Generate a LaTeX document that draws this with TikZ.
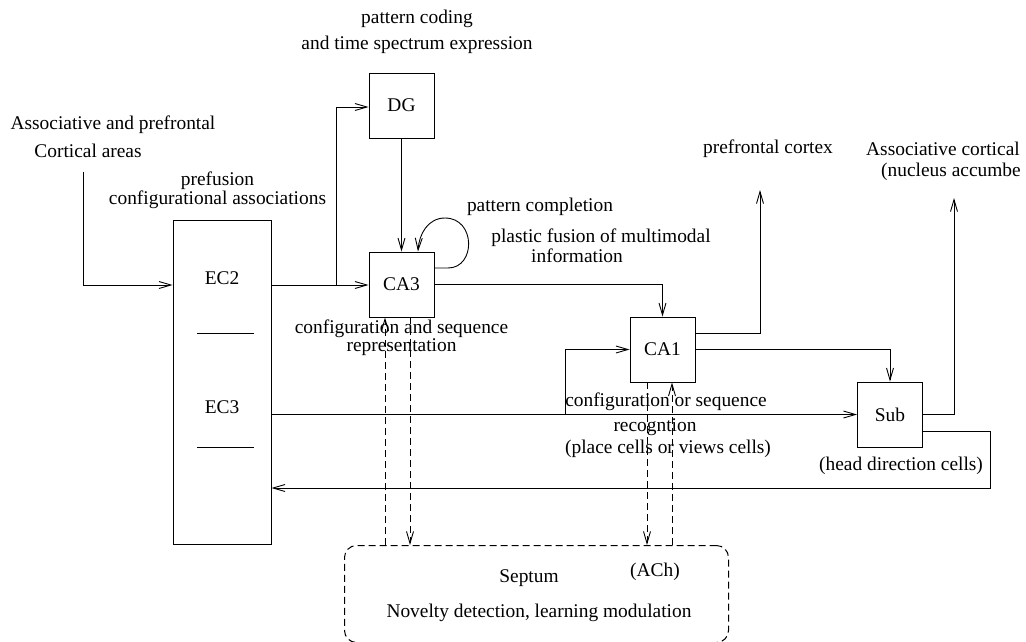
\documentclass[tikz,border=0pt]{standalone}
\usepackage{fontspec}
\setmainfont{Liberation Serif}
\usetikzlibrary{arrows.meta,calc}
\begin{document}
\begin{tikzpicture}[x=1pt,y=-1pt,
  every node/.style={font=\fontsize{19.4}{22}\selectfont, inner sep=0pt},
  box/.style={draw, line width=0.9pt, minimum width=65pt, minimum height=65pt},
  arr/.style={line width=0.9pt, -{Straight Barb[length=12pt,width=7pt]}},
  darr/.style={line width=0.9pt, dash pattern=on 7pt off 4pt, -{Straight Barb[length=12pt,width=7pt]}},
  ln/.style={line width=0.9pt}]
\clip (0,0) rectangle (1026,641);
% boxes
\node[box] (DG) at (401.5,105.5) {DG};
\node[box] (CA3) at (401.5,284.5) {CA3};
\node[box] (CA1) at (662.5,349.5) {CA1};
\node[box] (Sub) at (890,414.5) {Sub};
\node[draw, line width=0.9pt, minimum width=98pt, minimum height=324pt] (EC) at (222,382) {};
\node (ec2) at (222,278) {EC2};
\node (ec3) at (222,407) {EC3};
\draw[ln] (197,333.5) -- (254,333.5);
\draw[ln] (197,447.5) -- (254,447.5);
\node[draw, line width=1pt, dash pattern=on 7pt off 4pt, rounded corners=12pt, minimum width=384pt, minimum height=97pt] (Sep) at (536.5,594) {};
% texts
\node (t1) at (417,19) {pattern coding};
\node (t2) at (417,45) {and time spectrum expression};
\node (t3) at (113,125) {Associative and prefrontal};
\node (t4) at (88,151) {Cortical areas};
\node[align=center, font=\fontsize{19.4}{16}\selectfont] (t5) at (217.5,190) {prefusion\\configurational associations};
\node (t7) at (540,207) {pattern completion};
\node (t8) at (601,238) {plastic fusion of multimodal};
\node (t9) at (577,256) {information};
\node (t10) at (768,149) {prefrontal cortex};
\node[anchor=west] (t11) at (866,149) {Associative cortical};
\node[anchor=west] (t12) at (881,172) {(nucleus accumbe};
\node[align=center, font=\fontsize{19.4}{17}\selectfont] (t13) at (401.5,337.5) {configuration and sequence\\representation};
\node (t15) at (666,402) {configuration or sequence};
\node (t16) at (655,427) {recogntion};
\node (t17) at (668,449) {(place cells or views cells)};
\node (t18) at (901,466) {(head direction cells)};
\node (t19) at (529,578) {Septum};
\node (t20) at (655,572) {(ACh)};
\node (t21) at (539,613) {Novelty detection, learning modulation};
% coordinates
\coordinate (inp) at (83,172);
\coordinate (br1) at (336,285);
\coordinate (pfc) at (760,190);
\coordinate (br2) at (565,415);
\coordinate (acx) at (954,198);
\coordinate (ret) at (990,488);
% connectors
\draw[arr] (inp) |- (EC.west |- 0,285);
\draw[arr] (EC.east |- 0,285) -- (CA3.west |- 0,285);
\draw[arr] (br1) |- (DG.west |- 0,107);
\draw[arr] (DG) -- (CA3);
\draw[arr] (CA3.east |- 0,268) -- (448,268) .. controls (476,268) and (476,218) .. (445,218) .. controls (428,218) and (419,234) .. (CA3.north -| 418,0);
\draw[arr] (CA3.east) -| (CA1.north);
\draw[arr] (CA1.east |- 0,333) -| (pfc);
\draw[arr] (CA1.east) -| (Sub.north);
\draw[arr] (EC.east |- Sub) -- (Sub.west);
\draw[arr] (br2) |- (CA1.west);
\draw[arr] (Sub.east) -| (acx);
\draw[arr] (Sub.east |- 0,431) -| (ret) -- (EC.east |- ret);
\draw[darr] (Sep.north -| 385,0) -- (CA3.south -| 385,0);
\draw[darr] (CA3.south -| 410,0) -- (Sep.north -| 410,0);
\draw[darr] (CA1.south -| 647,0) -- (Sep.north -| 647,0);
\draw[darr] (Sep.north -| 672,0) -- (CA1.south -| 672,0);
\end{tikzpicture}
\end{document}
